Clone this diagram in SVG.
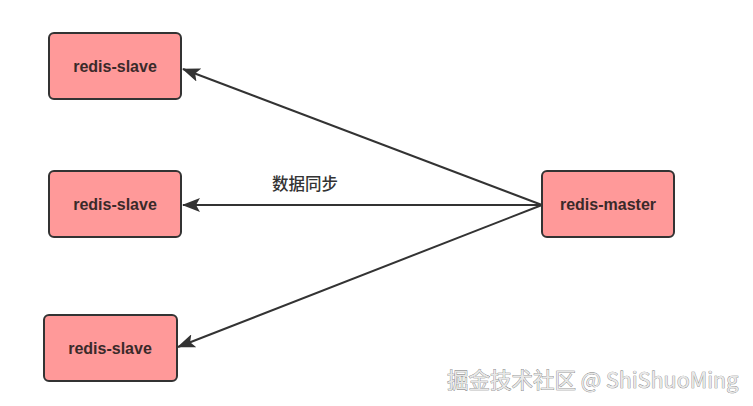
<svg xmlns="http://www.w3.org/2000/svg" width="753" height="406" viewBox="0 0 753 406">
<style>
.node rect{fill:#FF9999;stroke:#333;stroke-width:2}
.node text{font-family:"Liberation Sans","Noto Sans CJK SC",sans-serif;font-size:16px;font-weight:bold;fill:#3a2a2a;text-anchor:middle}
.conn line{stroke:#333;stroke-width:2;marker-end:url(#ah)}
.lbl{font-family:"Noto Sans CJK SC",sans-serif;font-size:16.5px;font-weight:500;fill:#333;text-anchor:middle}
.wm{font-family:"Noto Sans CJK SC","Liberation Sans",sans-serif;font-size:21.5px;fill:#e8e8e8;stroke:#777;stroke-width:0.7;paint-order:stroke}
</style>
<defs>
<marker id="ah" markerWidth="18" markerHeight="14" refX="17" refY="7" orient="auto" markerUnits="userSpaceOnUse">
<path d="M0,0 L18,7 L0,14 L4,7 Z" fill="#333"/>
</marker>
</defs>
<rect width="753" height="406" fill="#fff"/>
<g class="conn">
<line x1="542" y1="205" x2="183" y2="69"/>
<line x1="542" y1="205" x2="183" y2="205"/>
<line x1="542" y1="205" x2="178" y2="347"/>
</g>
<text class="lbl" x="305" y="190">数据同步</text>
<g id="slave1" class="node"><rect x="49" y="33" width="132" height="66" rx="5"/><text x="115" y="72">redis-slave</text></g>
<g id="slave2" class="node"><rect x="49" y="171" width="132" height="66" rx="5"/><text x="115" y="210">redis-slave</text></g>
<g id="slave3" class="node"><rect x="44" y="315" width="133" height="66" rx="5"/><text x="110" y="354">redis-slave</text></g>
<g id="master" class="node"><rect x="542" y="171" width="132" height="66" rx="5"/><text x="608" y="210">redis-master</text></g>
<text class="wm" x="447" y="388">掘金技术社区 @ ShiShuoMing</text>
</svg>
